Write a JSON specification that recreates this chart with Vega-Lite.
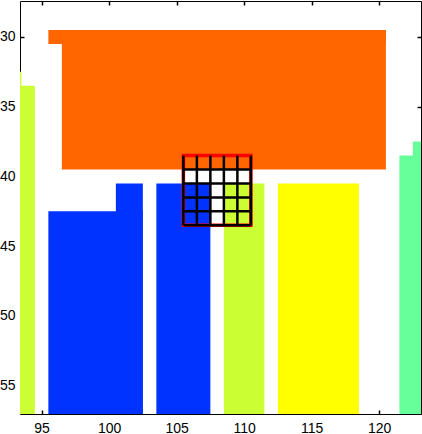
{
  "$schema": "https://vega.github.io/schema/vega-lite/v6.json",
  "autosize": "none",
  "padding": {"left": 20, "top": 1, "right": 1, "bottom": 20},
  "width": 401,
  "height": 413,
  "background": "white",
  "config": {
    "view": {"stroke": "black", "strokeWidth": 1},
    "axis": {
      "domain": false,
      "grid": false,
      "tickColor": "black",
      "tickSize": -4,
      "tickWidth": 1.5,
      "labelFont": "Liberation Sans",
      "labelFontSize": 14,
      "labelColor": "black",
      "title": null
    }
  },
  "datasets": {
    "blocks": [
      {"x": 95.5, "x2": 120.5, "y": 29.5, "y2": 30.5, "cls": "orange"},
      {"x": 96.5, "x2": 120.5, "y": 29.5, "y2": 39.5, "cls": "orange"},
      {"x": 92.5, "x2": 93.5, "y": 32.5, "y2": 57.5, "cls": "lime"},
      {"x": 92.5, "x2": 94.5, "y": 33.5, "y2": 57.5, "cls": "lime"},
      {"x": 108.5, "x2": 111.5, "y": 40.5, "y2": 57.5, "cls": "lime"},
      {"x": 95.5, "x2": 102.5, "y": 42.5, "y2": 57.5, "cls": "blue"},
      {"x": 100.5, "x2": 102.5, "y": 40.5, "y2": 57.5, "cls": "blue"},
      {"x": 103.5, "x2": 107.5, "y": 40.5, "y2": 57.5, "cls": "blue"},
      {"x": 112.5, "x2": 118.5, "y": 40.5, "y2": 57.5, "cls": "yellow"},
      {"x": 121.5, "x2": 123.5, "y": 38.5, "y2": 57.5, "cls": "green"},
      {"x": 122.5, "x2": 123.5, "y": 37.5, "y2": 57.5, "cls": "green"}
    ],
    "box": [
      {"x": 105.5, "x2": 110.5, "y": 38.5, "y2": 43.5}
    ],
    "vlines": [
      {"x": 105.5, "y": 38.5, "y2": 43.5},
      {"x": 106.5, "y": 38.5, "y2": 43.5},
      {"x": 107.5, "y": 38.5, "y2": 43.5},
      {"x": 108.5, "y": 38.5, "y2": 43.5},
      {"x": 109.5, "y": 38.5, "y2": 43.5},
      {"x": 110.5, "y": 38.5, "y2": 43.5}
    ],
    "hlines": [
      {"y": 39.5, "x": 105.5, "x2": 110.5},
      {"y": 40.5, "x": 105.5, "x2": 110.5},
      {"y": 41.5, "x": 105.5, "x2": 110.5},
      {"y": 42.5, "x": 105.5, "x2": 110.5},
      {"y": 43.5, "x": 105.5, "x2": 110.5}
    ]
  },
  "layer": [
    {
      "data": {"name": "blocks"},
      "mark": {"type": "rect", "clip": true},
      "encoding": {
        "x": {"field": "x", "type": "quantitative", "scale": {"domain": [93.4, 123.1], "nice": false, "zero": false},
              "axis": {"orient": "bottom", "values": [95, 100, 105, 110, 115, 120], "labelPadding": 11}},
        "x2": {"field": "x2"},
        "y": {"field": "y", "type": "quantitative", "scale": {"domain": [27.42, 57.03], "nice": false, "zero": false, "reverse": true},
              "axis": {"orient": "left", "values": [30, 35, 40, 45, 50, 55], "labelPadding": 9}},
        "y2": {"field": "y2"},
        "color": {"field": "cls", "type": "nominal", "legend": null,
                  "scale": {"domain": ["orange", "lime", "blue", "yellow", "green"],
                            "range": ["#FF6600", "#CCFF33", "#0033FF", "#FFFF00", "#66FF99"]}}
      }
    },
    {
      "data": {"name": "box"},
      "mark": {"type": "rect", "fill": null, "fillOpacity": 0, "stroke": "#FF0000", "strokeWidth": 3.5, "clip": true},
      "encoding": {
        "x": {"field": "x", "type": "quantitative", "axis": {"orient": "top", "values": [95, 100, 105, 110, 115, 120], "labels": false}},
        "x2": {"field": "x2"},
        "y": {"field": "y", "type": "quantitative", "axis": {"orient": "right", "values": [30, 35, 40, 45, 50, 55], "labels": false}},
        "y2": {"field": "y2"}
      }
    },
    {
      "data": {"name": "vlines"},
      "mark": {"type": "rule", "color": "black", "strokeWidth": 2.5, "clip": true},
      "encoding": {
        "x": {"field": "x", "type": "quantitative", "axis": null},
        "y": {"field": "y", "type": "quantitative", "axis": null},
        "y2": {"field": "y2"}
      }
    },
    {
      "data": {"name": "hlines"},
      "mark": {"type": "rule", "color": "black", "strokeWidth": 2.5, "clip": true},
      "encoding": {
        "y": {"field": "y", "type": "quantitative", "axis": null},
        "x": {"field": "x", "type": "quantitative", "axis": null},
        "x2": {"field": "x2"}
      }
    }
  ],
  "resolve": {"axis": {"x": "independent", "y": "independent"}}
}
